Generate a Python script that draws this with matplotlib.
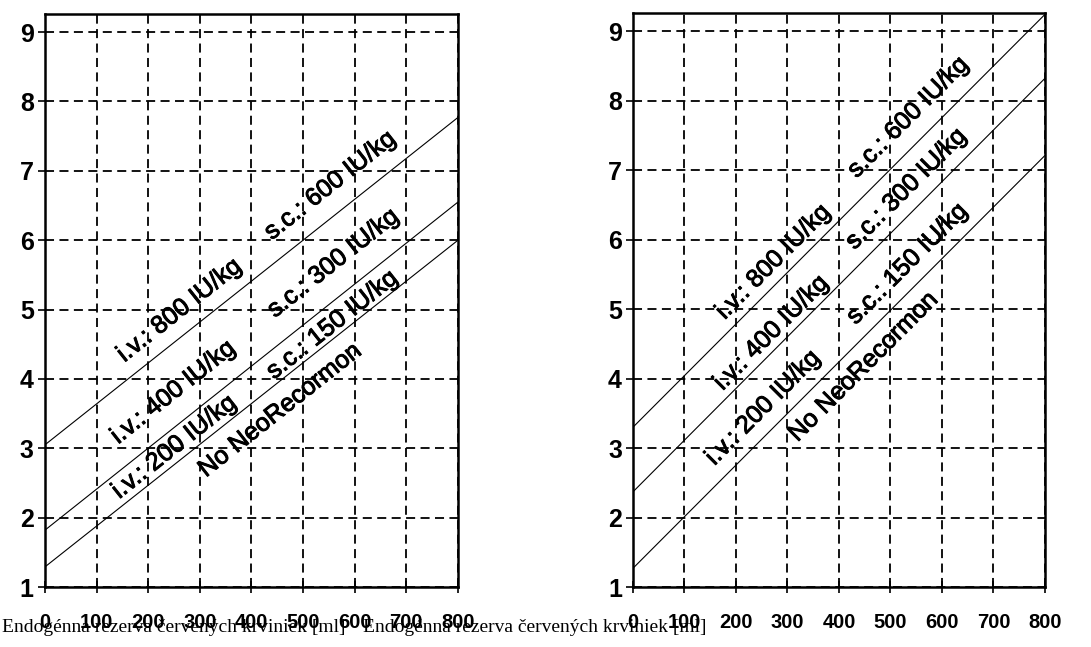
import numpy as np
import matplotlib
matplotlib.use('Agg')
import matplotlib.pyplot as plt
import matplotlib.patheffects as pe

# x axis: endogenous reserve of red blood cells [ml]
x_ends = [0, 800]

# left panel: three lines (value at x=0, value at x=800)
left_lines = [(3.05, 7.77), (1.82, 6.55), (1.29, 6.00)]
# right panel
right_lines = [(3.30, 9.24), (2.37, 8.32), (1.27, 7.21)]

left_labels = ['i.v.: 800 IU/kg', 's.c.: 600 IU/kg', 'i.v.: 400 IU/kg', 's.c.: 300 IU/kg',
               'i.v.: 200 IU/kg', 's.c.: 150 IU/kg', 'No NeoRecormon']
left_label_x = [260, 552, 248, 558, 250, 556, 455]
left_label_y = [4.99, 6.79, 3.81, 5.67, 3.02, 4.78, 3.55]

right_labels = ['i.v.: 800 IU/kg', 's.c.: 600 IU/kg', 'i.v.: 400 IU/kg', 's.c.: 300 IU/kg',
                'i.v.: 200 IU/kg', 's.c.: 150 IU/kg', 'No NeoRecormon']
right_label_x = [272, 534, 268, 530, 252, 532, 447]
right_label_y = [5.68, 7.76, 4.66, 6.73, 3.58, 5.65, 4.17]

x_ticks = [0, 100, 200, 300, 400, 500, 600, 700, 800]
y_ticks = [1, 2, 3, 4, 5, 6, 7, 8, 9]
x_label = 'Endogénna rezerva červených krviniek [ml]'

heavy = [pe.withStroke(linewidth=0.7, foreground='black')]


def make_panel(ax, lines, labels, lx, ly):
    ax.set_xlim(0, 800)
    ax.set_ylim(1, 9.26)
    for y0, y1 in lines:
        ax.plot(x_ends, [y0, y1], color='black', lw=0.8)
    ax.set_xticks(x_ticks)
    ax.set_yticks(y_ticks)
    ax.set_xticklabels([str(t) for t in x_ticks], family=['Liberation Sans'], fontsize=14.5,
                       fontweight='bold')
    ax.set_yticklabels([str(t) for t in y_ticks], family=['Liberation Sans'], fontsize=18,
                       fontweight='bold')
    ax.tick_params(axis='x', direction='inout', length=9, width=1.2, pad=14)
    ax.tick_params(axis='y', direction='out', length=5, width=1.2, pad=3)
    ax.grid(True, color='black', lw=1.3, linestyle=(0, (5, 3)))
    for sp in ax.spines.values():
        sp.set_linewidth(1.8)

    # rotation follows the line slope on screen
    y0, y1 = lines[0]
    p0 = ax.transData.transform((0, y0))
    p1 = ax.transData.transform((800, y1))
    angle = np.degrees(np.arctan2(p1[1] - p0[1], p1[0] - p0[0]))
    for t, x, y in zip(labels, lx, ly):
        ax.text(x, y, t, rotation=angle, rotation_mode='anchor', ha='center', va='center',
                family=['Liberation Sans'], fontsize=18, path_effects=heavy)


fig = plt.figure(figsize=(10.91, 6.47), dpi=100)
ax1 = fig.add_axes([0.0412, 0.0927, 0.3786, 0.8856])
ax2 = fig.add_axes([0.5802, 0.0927, 0.3776, 0.8872])

make_panel(ax1, left_lines, left_labels, left_label_x, left_label_y)
make_panel(ax2, right_lines, right_labels, right_label_x, right_label_y)

fig.text(174 / 1091, 1 - 627 / 647, x_label, family=['Liberation Serif'], fontsize=14,
         ha='center', va='center')
fig.text(535 / 1091, 1 - 627 / 647, x_label, family=['Liberation Serif'], fontsize=14,
         ha='center', va='center')

fig.savefig('out.png', dpi=100)
